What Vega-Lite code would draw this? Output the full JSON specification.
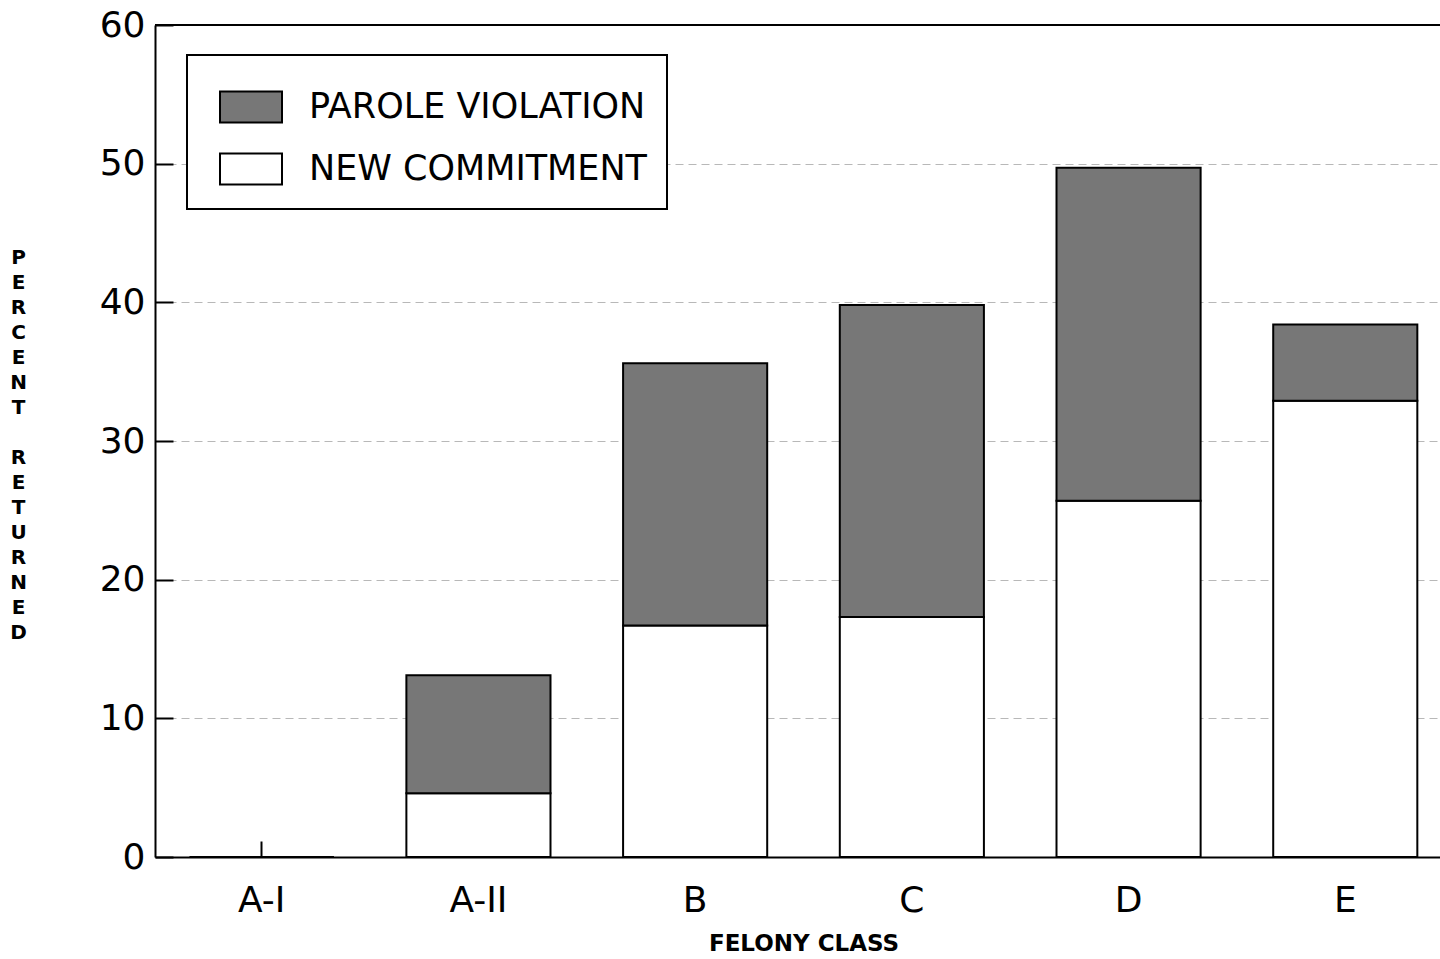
{
  "$schema": "https://vega.github.io/schema/vega-lite/v6.json",
  "width": 1285,
  "height": 832,
  "autosize": {"type": "none"},
  "padding": {"left": 155, "top": 25, "right": 0, "bottom": 102},
  "background": "white",
  "config": {"view": {"stroke": null}, "font": "DejaVu Sans", "legend": {"strokeWidth": 2}},
  "data": {
    "values": [
      {"felony": "A-I", "type": "NEW COMMITMENT", "percent": 0},
      {"felony": "A-I", "type": "PAROLE VIOLATION", "percent": 0},
      {"felony": "A-II", "type": "NEW COMMITMENT", "percent": 4.6},
      {"felony": "A-II", "type": "PAROLE VIOLATION", "percent": 8.5},
      {"felony": "B", "type": "NEW COMMITMENT", "percent": 16.7},
      {"felony": "B", "type": "PAROLE VIOLATION", "percent": 18.9},
      {"felony": "C", "type": "NEW COMMITMENT", "percent": 17.3},
      {"felony": "C", "type": "PAROLE VIOLATION", "percent": 22.5},
      {"felony": "D", "type": "NEW COMMITMENT", "percent": 25.7},
      {"felony": "D", "type": "PAROLE VIOLATION", "percent": 24.0},
      {"felony": "E", "type": "NEW COMMITMENT", "percent": 32.9},
      {"felony": "E", "type": "PAROLE VIOLATION", "percent": 5.5}
    ]
  },
  "layer": [
    {
      "mark": {"type": "bar", "stroke": "black", "strokeWidth": 2},
      "encoding": {
        "x": {
          "field": "felony",
          "type": "nominal",
          "sort": ["A-I", "A-II", "B", "C", "D", "E"],
          "scale": {"paddingInner": 0.335, "paddingOuter": 0.16, "range": [0, 1297]},
          "title": "FELONY CLASS",
          "axis": {
            "labelAngle": 0,
            "tickSize": -16,
            "tickColor": "black",
            "tickWidth": 2,
            "domainColor": "black",
            "domainWidth": 2,
            "labelFontSize": 36,
            "labelColor": "black",
            "labelPadding": 42,
            "titleFontSize": 23,
            "titleFontWeight": "bold",
            "titleColor": "black",
            "titlePadding": 14
          }
        },
        "y": {
          "field": "percent",
          "type": "quantitative",
          "stack": "zero",
          "scale": {"domain": [0, 60]},
          "axis": {
            "values": [0, 10, 20, 30, 40, 50, 60],
            "tickSize": -18,
            "tickColor": "black",
            "tickWidth": 2,
            "domainColor": "black",
            "domainWidth": 2,
            "labelFontSize": 36,
            "labelColor": "black",
            "labelPadding": 28,
            "grid": true,
            "gridColor": "#888888",
            "gridDash": [8, 5],
            "gridWidth": 1,
            "gridOpacity": 0.6,
            "title": ["P", "E", "R", "C", "E", "N", "T", "\u200b", "R", "E", "T", "U", "R", "N", "E", "D"],
            "titleAngle": 0,
            "titleX": -137,
            "titleY": 232,
            "titleAlign": "center",
            "titleBaseline": "middle",
            "titleFontSize": 20,
            "titleFontWeight": "bold",
            "titleLineHeight": 25,
            "titleColor": "black"
          }
        },
        "color": {
          "field": "type",
          "type": "nominal",
          "scale": {"domain": ["PAROLE VIOLATION", "NEW COMMITMENT"], "range": ["#777777", "#ffffff"]},
          "legend": {
            "orient": "none",
            "legendX": 32,
            "legendY": 30,
            "title": null,
            "symbolType": "M-1,-0.5H1V0.5H-1Z",
            "symbolSize": 3844,
            "symbolStrokeColor": "black",
            "symbolStrokeWidth": 2,
            "symbolOffset": 12,
            "labelFontSize": 35,
            "labelColor": "black",
            "labelLimit": 1000,
            "labelOffset": 26,
            "rowPadding": 10,
            "padding": 20,
            "strokeColor": "black",
            "fillColor": "white"
          }
        },
        "order": {"field": "type", "sort": "ascending"}
      }
    },
    {
      "mark": {"type": "rule", "color": "black", "strokeWidth": 2},
      "encoding": {"y": {"datum": 60}}
    }
  ]
}
